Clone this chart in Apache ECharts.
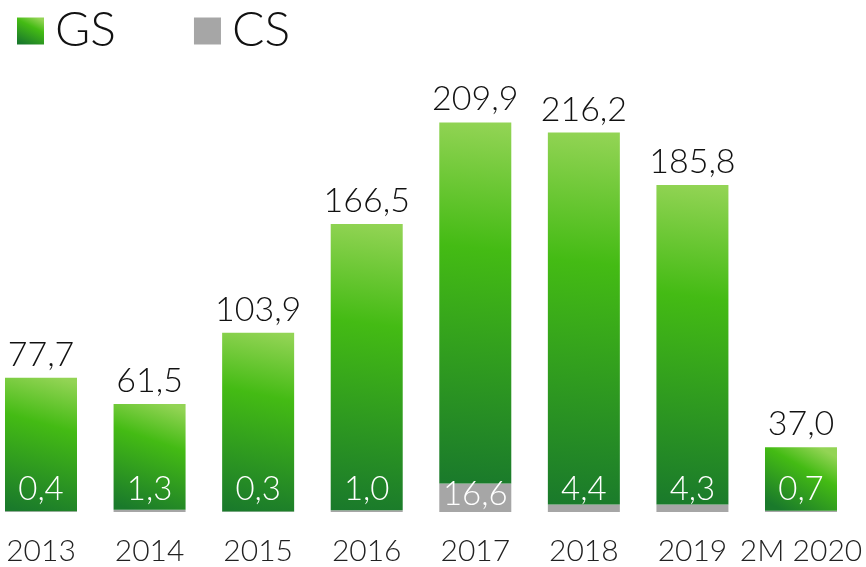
<!DOCTYPE html>
<html>
<head>
<meta charset="utf-8">
<script src="https://cdn.jsdelivr.net/npm/echarts@6/dist/echarts.min.js"></script>
<style>
html,body{margin:0;padding:0;background:#fff;}
#chart{width:866px;height:567px;}
</style>
</head>
<body>
<div id="chart"></div>
<script>
const categories = ['2013', '2014', '2015', '2016', '2017', '2018', '2019', '2M 2020'];
const gsValues = [77.7, 61.5, 103.9, 166.5, 209.9, 216.2, 185.8, 37.0];
const csValues = [0.4, 1.3, 0.3, 1.0, 16.6, 4.4, 4.3, 0.7];

const FONT = 'Lato, "Open Sans", sans-serif';
const fmt = v => v.toFixed(1).replace('.', ',');

const greenFill = new echarts.graphic.LinearGradient(0.75, 0, 0.25, 1, [
  { offset: 0, color: '#93d455' },
  { offset: 0.35, color: '#44bb14' },
  { offset: 1, color: '#1a7a2b' }
]);

const chart = echarts.init(document.getElementById('chart'));
chart.setOption({
  animation: false,
  legend: {
    left: 12, top: 2,
    itemWidth: 27, itemHeight: 27, itemGap: 78,
    icon: 'rect',
    textStyle: { fontFamily: FONT, fontSize: 48, fontWeight: 300, color: '#111', padding: [0, 0, 0, 6] },
    data: ['GS', 'CS']
  },
  // category centres sit on the grid edges (boundaryGap off)
  grid: { left: 41, right: 65, top: 82, bottom: 55 },
  xAxis: {
    type: 'category',
    data: categories,
    boundaryGap: false,
    axisLine: { show: false },
    axisTick: { show: false },
    axisLabel: { fontFamily: FONT, fontSize: 30, fontWeight: 300, color: '#222', margin: 24, interval: 0 }
  },
  yAxis: {
    type: 'value', min: 0, max: 250,
    show: false, splitLine: { show: false }
  },
  series: [
    {
      name: 'CS', type: 'bar', stack: 'total', barWidth: 72,
      itemStyle: { color: '#a6a6a6' },
      data: csValues.map((v, i) => ({
        value: v,
        label: {
          show: true, position: 'insideBottom',
          distance: i === 4 ? 1 : 6,
          formatter: () => fmt(v),
          fontFamily: FONT, fontSize: 33, fontWeight: 300, color: '#fff'
        }
      }))
    },
    {
      name: 'GS', type: 'bar', stack: 'total', barWidth: 72,
      itemStyle: { color: greenFill },
      label: {
        show: true, position: 'top', distance: 6,
        formatter: p => fmt(p.value),
        fontFamily: FONT, fontSize: 34, fontWeight: 300, color: '#111'
      },
      data: gsValues
    }
  ]
});
</script>
</body>
</html>
